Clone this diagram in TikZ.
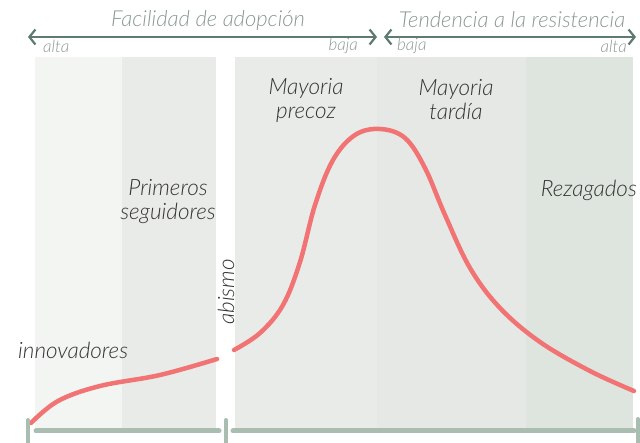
\documentclass[tikz,border=0pt]{standalone}
\usepackage{fontspec}
\setmainfont{Lato}[ItalicFont={Lato Light Italic}]
\usetikzlibrary{arrows.meta}
\definecolor{bandA}{HTML}{F3F5F2}
\definecolor{bandB}{HTML}{E9EBE8}
\definecolor{bandC}{HTML}{E5E8E4}
\definecolor{bandD}{HTML}{DEE5DF}
\definecolor{axisgray}{HTML}{5F7B71}
\definecolor{headgray}{HTML}{8A9892}
\definecolor{bargreen}{HTML}{A9BEB1}
\definecolor{curvered}{HTML}{F27373}
\tikzset{
  head/.style = {font=\fontsize{22}{24}\selectfont\itshape, text=headgray, inner sep=0pt},
  ends/.style = {font=\fontsize{17}{18}\selectfont\itshape, text=headgray, inner sep=0pt},
  phase/.style = {font=\fontsize{22.5}{24}\selectfont\itshape, text=black!80, inner sep=0pt, align=center},
  scale arrow/.style = {draw=axisgray, line width=2.2pt, {Straight Barb[length=6pt,width=15pt]}-{Straight Barb[length=6pt,width=15pt]}},
  bar/.style = {draw=bargreen, line width=5pt, line cap=round},
  tick/.style = {draw=bargreen, line width=4pt, line cap=round},
  adoption/.style = {draw=curvered, line width=4.5pt, line cap=round}
}
\begin{document}
\begin{tikzpicture}[x=1pt, y=-1pt]
\useasboundingbox (0,0) rectangle (640,443);
% bands
\fill[bandA] (35,57) rectangle (122,428);
\fill[bandB] (122,57) rectangle (216,428);
\fill[bandB] (235,57) rectangle (377,428);
\fill[bandC] (377,57) rectangle (526,428);
\fill[bandD] (526,57) rectangle (633,428);
% top scales
\coordinate (fa) at (28,37);
\coordinate (fb) at (377,37);
\coordinate (ta) at (384,37);
\coordinate (tb) at (636,37);
\draw[scale arrow] (fa) -- (fb);
\draw[scale arrow] (ta) -- (tb);
\node[head] (facil) at (208,20) {Facilidad de adopción};
\node[head] (tend) at (512,20) {Tendencia a la resistencia};
\node[ends, anchor=west] (altaL) at (43,46) {alta};
\node[ends, anchor=east] (bajaL) at (358,46) {baja};
\node[ends, anchor=west] (bajaR) at (397,46) {baja};
\node[ends, anchor=east] (altaR) at (627,46) {alta};
% phases
\node[phase, anchor=west] (innov) at (18,350) {innovadores};
\node[phase] (prim) at (168,202) {Primeros\\seguidores};
\node[phase, rotate=90] (abismo) at (226,292) {abismo};
\node[phase] (precoz) at (306,100) {Mayoria\\precoz};
\node[phase] (tardia) at (456,100) {Mayoria\\tardía};
\node[phase, anchor=east] (rezag) at (637,190) {Rezagados};
% curve
\draw[adoption] plot[smooth, tension=0.6] coordinates {(31,423) (58,401) (100,386) (160,375) (217,359)};
\draw[adoption] plot[smooth, tension=0.6] coordinates {(234,350) (260,333) (283,305) (300,262) (315,205) (333,160) (355,135) (380,129) (405,138) (425,168) (445,215) (470,268) (500,308) (540,342) (590,371) (634,391)};
% bottom bars
\coordinate (b1) at (36,431);
\coordinate (b2) at (219,431);
\coordinate (b3) at (233,431);
\coordinate (b4) at (634,431);
\draw[bar] (b1) -- (b2);
\draw[bar] (b3) -- (b4);
\draw[tick] (28,420) -- (28,445);
\draw[tick] (226,420) -- (226,445);
\draw[tick] (638,419) -- (638,445);
\end{tikzpicture}
\end{document}
